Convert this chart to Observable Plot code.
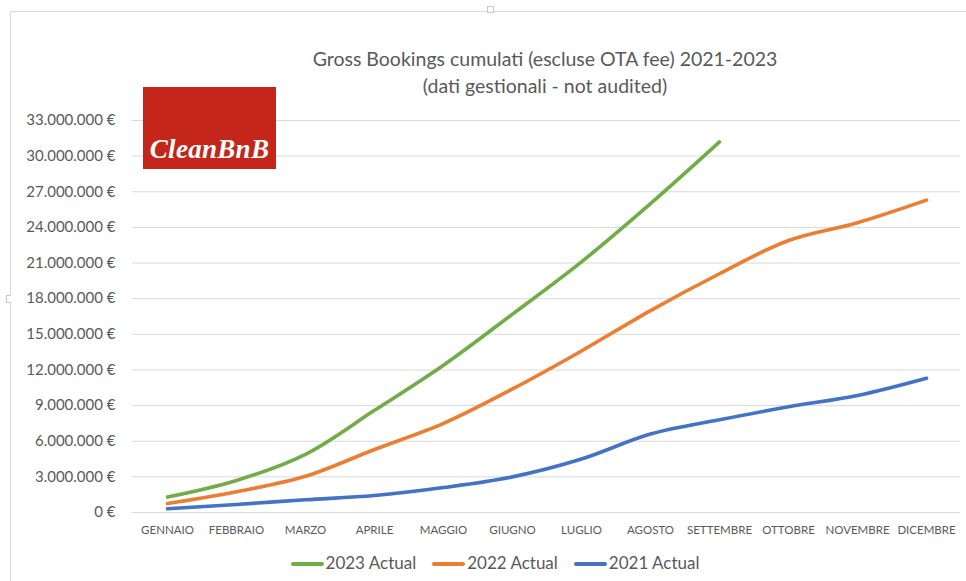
<!DOCTYPE html>
<html>
<head>
<meta charset="utf-8">
<script src="https://cdn.jsdelivr.net/npm/d3@7"></script>
<script src="https://cdn.jsdelivr.net/npm/@observablehq/plot@0.6"></script>
<style>
  html, body { margin: 0; padding: 0; background: #fff; }
  #wrap { position: relative; width: 966px; height: 581px; overflow: hidden; font-family: Lato, "Open Sans", sans-serif; }
  #frameTop { position: absolute; left: 10px; top: 11px; width: 956px; height: 1px; background: #d9d9d9; }
  #frameLeft { position: absolute; left: 10px; top: 11px; width: 1px; height: 570px; background: #d9d9d9; }
  #handle { position: absolute; left: 487px; top: 6px; width: 5px; height: 5px; border: 1px solid #c8c8c8; background: #fff; }
  #handleL { position: absolute; left: 6px; top: 295px; width: 4px; height: 6px; border: 1px solid #c8c8c8; border-right: none; background: #fff; }
  #title { position: absolute; left: 0; top: 45px; width: 1090px; text-align: center; color: #595959; font-size: 19.5px; line-height: 27px; }
  #chart { position: absolute; left: 0; top: 105px; }
  #logo { position: absolute; left: 143px; top: 87px; width: 133px; height: 82px; background: #c4261a; color: #fff; font-family: "Liberation Serif", serif; font-style: italic; font-weight: bold; font-size: 27px; text-align: center; line-height: 30px; box-sizing: border-box; padding-top: 47px; letter-spacing: 0.3px; }
  #legend { position: absolute; left: 0; top: 552px; width: 990px; text-align: center; font-size: 17px; color: #595959; white-space: nowrap; }
  .item { display: inline-block; margin: 0 8px; }
  .sw { display: inline-block; width: 33px; height: 4px; border-radius: 2px; vertical-align: middle; margin-right: 2px; position: relative; top: -1px; }
</style>
</head>
<body>
<div id="wrap">
  <div id="frameTop"></div>
  <div id="frameLeft"></div>
  <div id="handle"></div>
  <div id="handleL"></div>
  <div id="title">Gross Bookings cumulati (escluse OTA fee) 2021-2023<br>(dati gestionali - not audited)</div>
  <div id="chart"></div>
  <div id="logo">CleanBnB</div>
  <div id="legend"></div>
</div>
<script>
const months = ["GENNAIO","FEBBRAIO","MARZO","APRILE","MAGGIO","GIUGNO","LUGLIO","AGOSTO","SETTEMBRE","OTTOBRE","NOVEMBRE","DICEMBRE"];
const seriesNames = ["2023 Actual", "2022 Actual", "2021 Actual"];
const seriesColors = ["#70ad47", "#ed7d31", "#4472c4"];
const actual2023 = [1300000, 2700000, 4900000, 8600000, 12400000, 16700000, 21100000, 26000000, 31200000];
const actual2022 = [750000, 1750000, 3050000, 5300000, 7500000, 10400000, 13600000, 17000000, 20100000, 22900000, 24400000, 26300000];
const actual2021 = [310000, 680000, 1070000, 1430000, 2100000, 3000000, 4500000, 6600000, 7800000, 8900000, 9850000, 11300000];
const yTicks = [0, 3000000, 6000000, 9000000, 12000000, 15000000, 18000000, 21000000, 24000000, 27000000, 30000000, 33000000];

const seriesValues = [actual2023, actual2022, actual2021];
const data = [];
seriesNames.forEach((name, s) => {
  seriesValues[s].forEach((v, i) => data.push({series: name, month: months[i], value: v}));
});

const fmt = d => (d === 0 ? "0" : d3.format(",")(d).replace(/,/g, ".")) + " €";

const chart = Plot.plot({
  width: 966,
  height: 440,
  marginLeft: 132,
  marginRight: 6,
  marginTop: 15,
  marginBottom: 33,
  style: { fontFamily: "Lato, 'Open Sans', sans-serif", background: "transparent", overflow: "visible" },
  x: { type: "point", domain: months, padding: 0.5, label: null, tickSize: 0 },
  y: { domain: [0, 33000000], label: null, ticks: yTicks, tickFormat: fmt },
  color: { domain: seriesNames, range: seriesColors },
  marks: [
    Plot.ruleY(yTicks, { stroke: "#d9d9d9", strokeWidth: 1 }),
    Plot.axisY({ ticks: yTicks, tickFormat: fmt, tickSize: 0, tickPadding: 17, fontSize: 15, color: "#595959", label: null }),
    Plot.axisX({ tickSize: 0, tickPadding: 13, fontSize: 11.5, color: "#595959", label: null }),
    Plot.line(data, { x: "month", y: "value", z: "series", stroke: "series", strokeWidth: 3.6, curve: "catmull-rom", strokeLinecap: "round", strokeLinejoin: "round" })
  ]
});
document.getElementById("chart").appendChild(chart);

const legend = document.getElementById("legend");
seriesNames.forEach((name, i) => {
  const item = document.createElement("span");
  item.className = "item";
  const sw = document.createElement("span");
  sw.className = "sw";
  sw.style.background = seriesColors[i];
  item.appendChild(sw);
  item.appendChild(document.createTextNode(name));
  legend.appendChild(item);
});
</script>
</body>
</html>
